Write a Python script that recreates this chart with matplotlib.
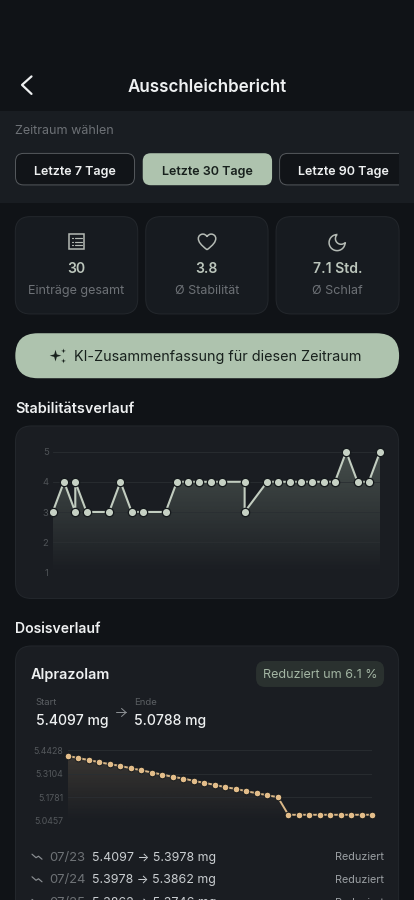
"""
Ausschleichbericht screen: stability and dose charts inside a dark app layout.
"""
import numpy as np
import matplotlib
matplotlib.use('Agg')
import matplotlib.pyplot as plt
from matplotlib.patches import FancyBboxPatch, PathPatch, Rectangle, Polygon
from matplotlib.path import Path

plt.rcParams['font.family'] = ['Inter', 'DejaVu Sans']

# chart data
stab_days = [0, 1, 2, 2, 3, 5, 6, 7, 8, 10, 11, 12, 13, 14, 15, 17, 17, 19, 20,
             21, 22, 23, 24, 25, 26, 27, 28, 29]
stab_vals = [3, 4, 3, 4, 3, 3, 4, 3, 3, 3, 4, 4, 4, 4, 4, 4, 3, 4, 4,
             4, 4, 4, 4, 4, 5, 4, 4, 5]
stab_ticks = [1, 2, 3, 4, 5]

dose_vals = [5.4097, 5.3978, 5.3862, 5.3746, 5.3630, 5.3536, 5.3405, 5.3293,
             5.3162, 5.3049, 5.2918, 5.2825, 5.2694, 5.2581, 5.2469, 5.2338,
             5.2244, 5.2113, 5.2000, 5.1888, 5.1776, 5.0788, 5.0788, 5.0788,
             5.0788, 5.0788, 5.0788, 5.0788, 5.0788, 5.0788]
dose_ticks = [5.0457, 5.1781, 5.3104, 5.4428]

row_dates = ['07/23', '07/24', '07/25']
row_from = ['5.4097', '5.3978', '5.3862']
row_to = ['5.3978', '5.3862', '5.3746']

periods = ['Letzte 7 Tage', 'Letzte 30 Tage', 'Letzte 90 Tage']
stat_values = ['30', '3.8', '7.1 Std.']
stat_labels = ['Einträge gesamt', 'Ø Stabilität', 'Ø Schlaf']

BG = '#101317'
PANEL = '#191d22'
CARD = '#171b20'
CHART = '#1a1d22'
BORDER = '#23272c'
SAGE = '#aec3ae'
GOLD = '#e3bd8a'
WHITE = '#eef0f1'
MUTED = '#6d7176'
ICON = '#b4bab4'
DARK = '#18211d'

W, H = 414, 900
fig = plt.figure(figsize=((W + 0.1) / 100, (H + 0.1) / 100), dpi=100, facecolor=BG)
ui = fig.add_axes([0, 0, 1, 1])
ui.set_xlim(0, W)
ui.set_ylim(H, 0)
ui.axis('off')


def box(x0, y0, x1, y1, r, fc, ec='none', lw=1.0, clip=None, z=1):
    p = FancyBboxPatch((x0, y0), x1 - x0, y1 - y0, boxstyle=f'round,pad=0,rounding_size={r}',
                       fc=fc, ec=ec, lw=lw * 0.72, zorder=z)
    ui.add_patch(p)
    if clip is not None:
        p.set_clip_path(clip)
    return p


def txt(x, y, s, px, color, weight='normal', ha='left'):
    ui.text(x, y, s, fontsize=px * 0.72, color=color, fontweight=weight, ha=ha, va='baseline', zorder=5)


def stroke(xs, ys, color, lw=1.5):
    ui.plot(xs, ys, color=color, lw=lw * 0.72, solid_capstyle='round', solid_joinstyle='round', zorder=5)


def star(cx, cy, r, color):
    k = 0.22 * r
    pts = [(cx, cy - r), (cx + k, cy - k), (cx + r, cy), (cx + k, cy + k),
           (cx, cy + r), (cx - k, cy + k), (cx - r, cy), (cx - k, cy - k)]
    ui.add_patch(Polygon(pts, closed=True, fc=color, ec='none', zorder=5))


def chart_axes(x0, y0, x1, y1):
    return fig.add_axes([x0 / W, 1 - y1 / H, (x1 - x0) / W, (y1 - y0) / H], facecolor='none')


def gradient_fill(ax, xs, ys, color, a_top, a_bot, y_top, y_bot):
    rgba = np.zeros((256, 2, 4))
    rgba[..., :3] = matplotlib.colors.to_rgb(color)
    rgba[..., 3] = np.linspace(a_top, a_bot, 256)[:, None]
    im = ax.imshow(rgba, extent=[xs[0], xs[-1], y_bot, y_top], aspect='auto', origin='upper',
                   interpolation='bilinear', zorder=1)
    verts = [(xs[0], y_bot)] + list(zip(xs, ys)) + [(xs[-1], y_bot)]
    poly = Polygon(verts, closed=True, transform=ax.transData, fc='none', ec='none')
    ax.add_patch(poly)
    im.set_clip_path(poly)


def style_axes(ax, ticks, labels, xmax, ymin, ymax, label_color, px, pad):
    ax.set_xlim(0, xmax)
    ax.set_ylim(ymin, ymax)
    ax.set_xticks([])
    ax.set_yticks(ticks)
    ax.set_yticklabels(labels)
    ax.tick_params(axis='y', length=0, pad=pad, labelsize=px * 0.72, labelcolor=label_color)
    ax.grid(axis='y', color='#2a2e32', lw=0.6, zorder=2)
    ax.set_axisbelow(False)
    for s in ax.spines.values():
        s.set_visible(False)


# header and period panel
ui.add_patch(Rectangle((0, 111), W, 92, fc=PANEL, ec='none', zorder=0))
stroke([31.5, 22, 31.5], [76.5, 85, 94], WHITE, 2.2)
txt(207, 92.3, 'Ausschleichbericht', 17, WHITE, 'semibold', 'center')
txt(15.3, 134, 'Zeitraum wählen', 12.5, MUTED)

clip = Rectangle((0, 0), 399, H, transform=ui.transData)
box(15.5, 153.5, 134.5, 185, 8, '#111418', '#54585c')
box(142.7, 153.3, 272, 185.3, 8, SAGE)
box(279.5, 153.5, 420, 185, 8, '#111418', '#54585c', clip=clip)
txt(75, 175, periods[0], 12.5, WHITE, 'semibold', 'center')
txt(207.3, 175, periods[1], 12.5, DARK, 'semibold', 'center')
txt(343.7, 175, periods[2], 12.5, WHITE, 'semibold', 'center')

# stat cards
card_x = [(15.3, 137.7), (145.7, 268), (276, 399)]
for (x0, x1), val, lab in zip(card_x, stat_values, stat_labels):
    box(x0, 216.7, x1, 314, 15, CARD, BORDER)
    cx = (x0 + x1) / 2
    txt(cx, 273.3, val, 14, '#bcc6bc', 'semibold', 'center')
    txt(cx, 294, lab, 12.5, MUTED, 'normal', 'center')

# list icon
ui.add_patch(Rectangle((69.3, 234.5), 15, 15, fc='none', ec=ICON, lw=1.1, zorder=5))
for yy in (238.5, 242, 245.5):
    stroke([72, 73], [yy, yy], ICON, 1.2)
    stroke([75, 81.5], [yy, yy], ICON, 1.2)

# heart icon
heart = np.array([(12, 21), (5, 15.5), (2, 12), (2, 8), (2, 5), (4.5, 3), (7.2, 3), (9, 3), (11, 4), (12, 6),
                  (13, 4), (15, 3), (16.8, 3), (19.5, 3), (22, 5), (22, 8), (22, 12), (19, 15.5), (12, 21)])
heart_xy = (heart - 12) * 0.87 + [207, 242]
codes = [Path.MOVETO] + [Path.CURVE4] * 18
ui.add_patch(PathPatch(Path(heart_xy, codes), fc='none', ec=ICON, lw=1.1, zorder=5))

# moon icon
t_out = np.radians(np.linspace(270, 0, 40))
t_in = np.radians(np.linspace(45, 225, 30))
moon = np.vstack([np.c_[12 + 9 * np.cos(t_out), 12 + 9 * np.sin(t_out)],
                  np.c_[16.5 + 6.364 * np.cos(t_in), 7.5 + 6.364 * np.sin(t_in)]])
ui.add_patch(Polygon((moon - 12) * 0.89 + [337, 242.7], closed=True, fc='none', ec=ICON, lw=1.1, zorder=5))

# summary button
box(15.3, 333.3, 399, 378.3, 22.5, SAGE)
star(55.5, 355.7, 5.8, DARK)
star(63.5, 351, 2.4, DARK)
star(63.5, 361, 2.4, DARK)
txt(74, 361, 'KI-Zusammenfassung für diesen Zeitraum', 14.4, DARK, 'normal')

# stability chart
txt(14.8, 412.7, 'Stabilitätsverlauf', 14.4, WHITE, 'semibold')
box(15.5, 426, 398.5, 598.5, 16, CHART, BORDER)
ax1 = chart_axes(52.7, 451.7, 380, 572.3)
style_axes(ax1, stab_ticks, [str(t) for t in stab_ticks], 29, 1, 5, '#4f5357', 9.5, 3)
gradient_fill(ax1, stab_days, stab_vals, SAGE, 0.3, 0.0, 5, 1)
ax1.plot(stab_days, stab_vals, color='#c2cdc0', lw=1.5, marker='o', ms=6, mfc='#c6d1c4', mec='#14181b',
         mew=0.9, clip_on=False, zorder=4)

# dose card
txt(15.3, 632.5, 'Dosisverlauf', 14, WHITE, 'semibold')
box(15.5, 646, 398.5, 960, 16, CHART, BORDER)
txt(30.3, 679, 'Alprazolam', 14.4, WHITE, 'semibold')
box(256, 661, 384, 687, 9, '#2a312f')
txt(320, 678, 'Reduziert um 6.1 %', 12.5, '#a3b5a3', 'normal', 'center')
txt(35.5, 705, 'Start', 9.5, '#5b5f63')
txt(134.2, 705, 'Ende', 9.5, '#5b5f63')
txt(35.5, 725.3, '5.4097 mg', 14, WHITE, 'medium')
txt(134, 725.3, '5.0788 mg', 14, WHITE, 'medium')
stroke([116, 126], [712.5, 712.5], '#8a8e92', 1)
stroke([121.5, 126, 121.5], [708.5, 712.5, 716.5], '#8a8e92', 1)

# dose chart
ax2 = chart_axes(67.7, 750, 372.3, 820.7)
style_axes(ax2, dose_ticks, [f'{t:.4f}' for t in dose_ticks], 29, dose_ticks[0], dose_ticks[-1], '#54585c', 8.8, 3)
gradient_fill(ax2, list(range(len(dose_vals))), dose_vals, GOLD, 0.17, 0.0, dose_ticks[-1], dose_ticks[0])
ax2.plot(range(len(dose_vals)), dose_vals, color='#d9b787', lw=1.4, marker='o', ms=4.8, mfc=GOLD, mec='#14181b',
         mew=0.7, clip_on=False, zorder=4)

# change rows
for i, (d, a, b) in enumerate(zip(row_dates, row_from, row_to)):
    y = 860.7 + i * 22.6
    stroke([32, 36, 38.5, 42], [y - 6.5, y - 3, y - 4.5, y - 1.5], '#8a8e92', 1.2)
    txt(49, y, d, 13, '#6e7276')
    txt(91.5, y, f'{a} → {b} mg', 12.4, '#c9cdd0')
    txt(384, y - 0.5, 'Reduziert', 10.9, '#9a9fa3', 'normal', 'right')

fig.savefig('out.png', dpi=100, facecolor=BG)
plt.close(fig)
